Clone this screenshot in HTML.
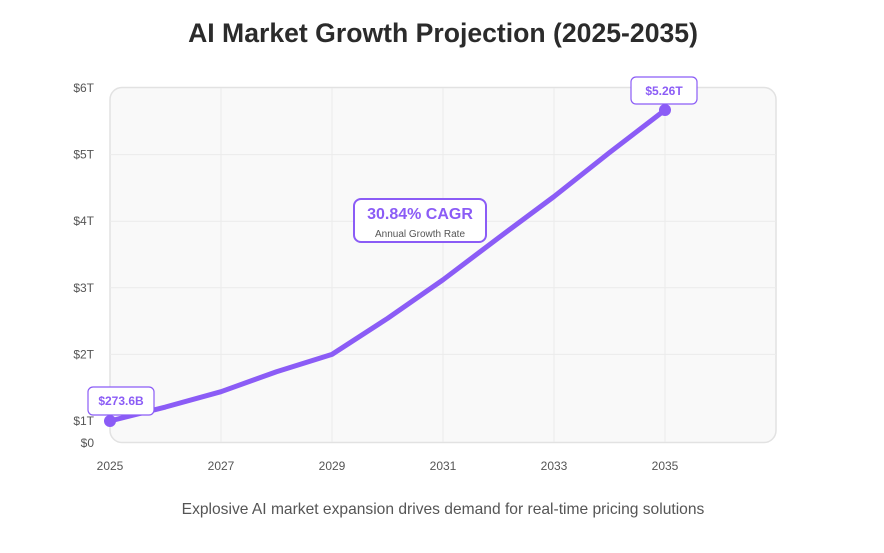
<!DOCTYPE html>
<html><head><meta charset="utf-8"><style>
body{margin:0;background:#fff;font-family:"Liberation Sans",sans-serif;}
</style></head><body>
<svg width="884" height="548" viewBox="0 0 884 548" id="c">
<text x="443" y="42" text-anchor="middle" font-size="26.6" font-weight="bold" fill="#2b2b2b">AI Market Growth Projection (2025-2035)</text>
<rect x="110" y="87.5" width="666" height="355" rx="12" fill="#f9f9f9" stroke="#e2e2e2" stroke-width="1.5"/>
<g id="grid"></g><g id="ticks"></g><g id="series"></g>
<g>
<rect x="88" y="387" width="66" height="28" rx="5" fill="#fff" stroke="#8b5cf6" stroke-width="1.2"/>
<text x="121" y="405" text-anchor="middle" font-size="12" font-weight="bold" fill="#8b5cf6">$273.6B</text></g>
<g>
<rect x="631" y="77" width="66" height="27" rx="5" fill="#fff" stroke="#8b5cf6" stroke-width="1.2"/>
<text x="664" y="95" text-anchor="middle" font-size="12" font-weight="bold" fill="#8b5cf6">$5.26T</text></g>
<g>
<rect x="354" y="199" width="132" height="43" rx="7" fill="#fff" stroke="#8b5cf6" stroke-width="2"/>
<text x="420" y="219" text-anchor="middle" font-size="16" font-weight="bold" fill="#8b5cf6">30.84% CAGR</text>
<text x="420" y="237" text-anchor="middle" font-size="10" fill="#555">Annual Growth Rate</text></g>
<text x="443" y="514" text-anchor="middle" font-size="15.6" fill="#555">Explosive AI market expansion drives demand for real-time pricing solutions</text>
</svg>
<script>
const years=[2025,2026,2027,2028,2029,2030,2031,2032,2033,2034,2035];
const values=[1.0,1.21,1.44,1.74,2.0,2.54,3.12,3.75,4.37,5.03,5.67];
const yTickVals=[1,2,3,4,5,6];
const yTickLabels=["$1T","$2T","$3T","$4T","$5T","$6T"];
const xTickYears=[2025,2027,2029,2031,2033,2035];
const NS="http://www.w3.org/2000/svg";
function X(yr){return 110+(yr-2025)*55.5;}
function Y(v){return 421-(v-1)*66.6;}
function mk(t,a,p){const e=document.createElementNS(NS,t);for(const k in a)e.setAttribute(k,a[k]);p.appendChild(e);return e;}
const grid=document.getElementById('grid'),ticks=document.getElementById('ticks'),ser=document.getElementById('series');
yTickVals.forEach((v,i)=>{
 if(v>1&&v<6){const l=mk('line',{x1:110,x2:776,y1:Y(v),y2:Y(v),stroke:'#ebebeb','stroke-width':1},grid);
 
 }
 const t=mk('text',{x:94,y:Y(v)+4,'text-anchor':'end','font-size':12,fill:'#555'},ticks);t.textContent=yTickLabels[i];
 
 
});
const z=mk('text',{x:94,y:447,'text-anchor':'end','font-size':12,fill:'#555'},ticks);z.textContent='$0';


xTickYears.forEach(yr=>{
 if(yr>2025){const l=mk('line',{x1:X(yr),x2:X(yr),y1:88,y2:442,stroke:'#ebebeb','stroke-width':1},grid);
 
 }
 const t=mk('text',{x:X(yr),y:470,'text-anchor':'middle','font-size':12,fill:'#555'},ticks);t.textContent=yr;
 
 
});
const p=mk('polyline',{points:years.map((y,i)=>X(y)+','+Y(values[i])).join(' '),fill:'none',stroke:'#8b5cf6','stroke-width':5,'stroke-linejoin':'round','stroke-linecap':'round'},ser);


[0,years.length-1].forEach(i=>{
 const c=mk('circle',{cx:X(years[i]),cy:Y(values[i]),r:6,fill:'#8b5cf6'},ser);
 
 
});
</script>
</body></html>
